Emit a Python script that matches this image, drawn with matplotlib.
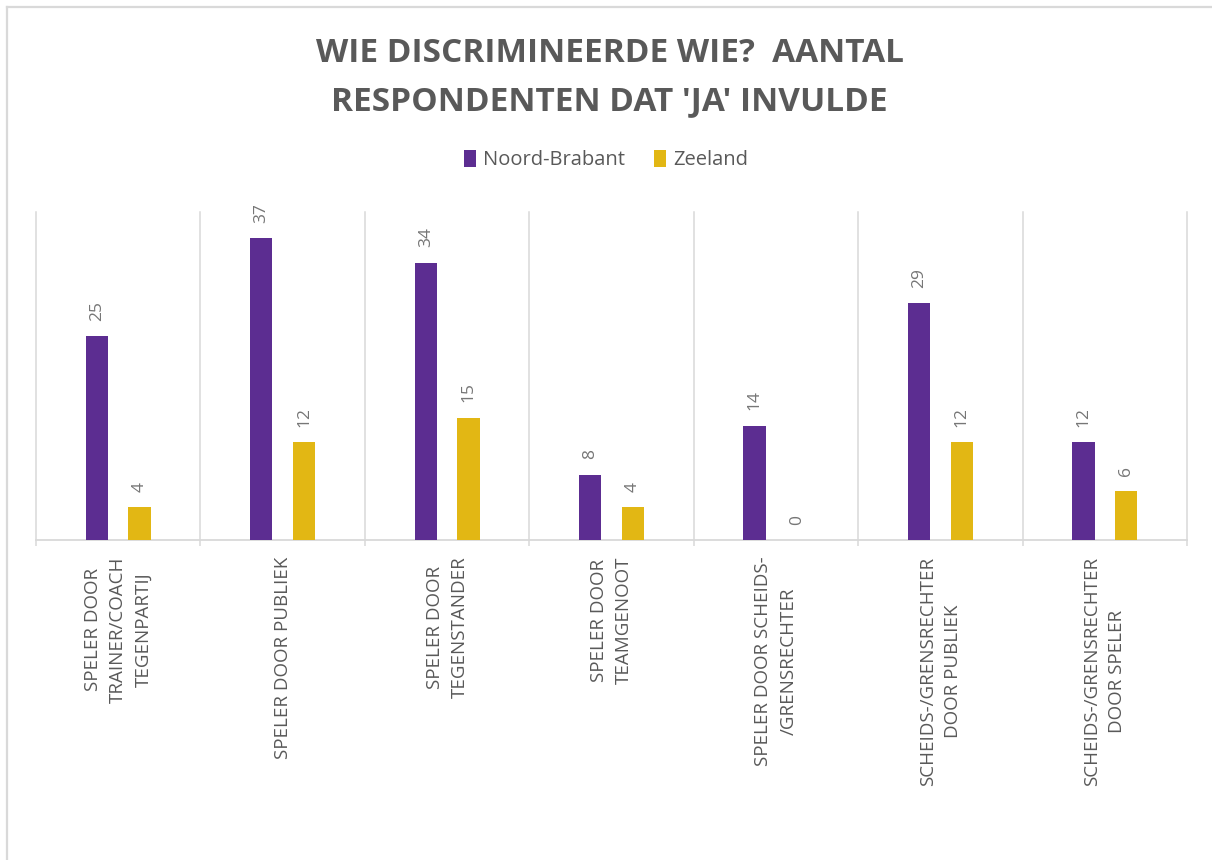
import numpy as np
import matplotlib.pyplot as plt
from matplotlib.lines import Line2D

# data
categories = [
    "SPELER DOOR\nTRAINER/COACH\nTEGENPARTIJ",
    "SPELER DOOR PUBLIEK",
    "SPELER DOOR\nTEGENSTANDER",
    "SPELER DOOR\nTEAMGENOOT",
    "SPELER DOOR SCHEIDS-\n/GRENSRECHTER",
    "SCHEIDS-/GRENSRECHTER\nDOOR PUBLIEK",
    "SCHEIDS-/GRENSRECHTER\nDOOR SPELER",
]
noord_brabant = [25, 37, 34, 8, 14, 29, 12]
zeeland = [4, 12, 15, 4, 0, 12, 6]
series_names = ["Noord-Brabant", "Zeeland"]

purple = "#5c2d91"
yellow = "#e2b714"
grid_col = "#d9d9d9"
text_col = "#595959"

plt.rcParams['font.family'] = ['Open Sans', 'DejaVu Sans']

fig = plt.figure(figsize=(12.12, 8.6), dpi=100)
ax = fig.add_axes([36 / 1212, 1 - 540 / 860, (1187 - 36) / 1212, (540 - 212) / 860])

x = np.arange(len(categories))
w = 0.135
b1 = ax.bar(x - 0.13, noord_brabant, w, color=purple, label=series_names[0], zorder=3)
b2 = ax.bar(x + 0.13, zeeland, w, color=yellow, label=series_names[1], zorder=3)

# data labels, rotated like in the original
for bars, vals in [(b1, noord_brabant), (b2, zeeland)]:
    for bar, v in zip(bars, vals):
        ax.annotate(str(v), (bar.get_x() + bar.get_width() / 2, v),
                    xytext=(0, 11), textcoords='offset points',
                    rotation=90, ha='center', va='bottom',
                    fontsize=12.5, color="#767676")

ax.set_xlim(-0.5, len(categories) - 0.5)
ax.set_ylim(0, 40.2)
ax.set_yticks([])

# category labels
ax.set_xticks(x)
ax.set_xticklabels(categories, rotation=90, ha='center', va='top',
                   multialignment='center', fontsize=13.5, color=text_col,
                   linespacing=1.5)
ax.tick_params(axis='x', which='major', length=0, pad=12)

# separators between categories
bounds = np.arange(len(categories) + 1) - 0.5
ax.set_xticks(bounds, minor=True)
ax.tick_params(axis='x', which='minor', length=4.5, width=1.1, color=grid_col)
for b in bounds:
    ax.axvline(b, color=grid_col, lw=1.1, zorder=1, clip_on=False)

for s in ['top', 'left', 'right']:
    ax.spines[s].set_visible(False)
ax.spines['bottom'].set_color(grid_col)
ax.spines['bottom'].set_linewidth(1.3)

# title and legend
fig.text(0.503, 1 - 78 / 860, "WIE DISCRIMINEERDE WIE?  AANTAL\nRESPONDENTEN DAT 'JA' INVULDE",
         ha='center', va='center', fontsize=24, fontweight='bold', color=text_col,
         linespacing=1.6)
fig.legend(handles=[b1, b2], labels=series_names, loc='center', ncol=2,
           bbox_to_anchor=(0.5, 1 - 160 / 860), frameon=False, fontsize=14.5,
           labelcolor=text_col, handlelength=0.62, handleheight=0.9,
           handletextpad=0.35, columnspacing=1.4)

# chart area border (only top and left visible in the crop)
fig.add_artist(Line2D([7 / 1212, 1], [1 - 7 / 860, 1 - 7 / 860], color=grid_col, lw=1.6))
fig.add_artist(Line2D([7 / 1212, 7 / 1212], [0, 1 - 7 / 860], color=grid_col, lw=1.6))

fig.savefig("out.png", dpi=100, facecolor='white')
